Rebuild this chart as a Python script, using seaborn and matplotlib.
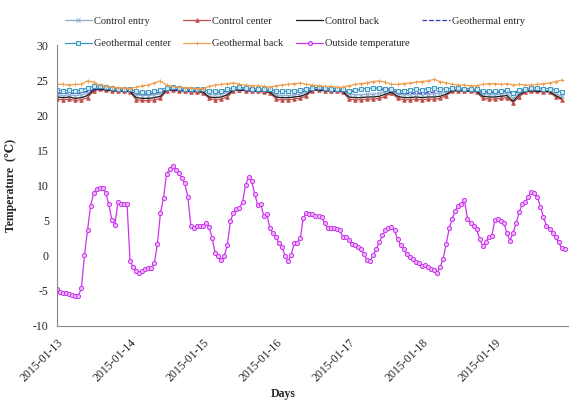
import pandas as pd
import seaborn as sns
import matplotlib.pyplot as plt
import matplotlib.dates as mdates

sns.set_style("white")
plt.rcParams["font.family"] = ["Liberation Serif", "DejaVu Serif"]
plt.rcParams["axes.unicode_minus"] = False

# hourly outside temperature, 2015-01-13 00:00 onwards
outside = [-4.7, -5.2, -5.3, -5.3, -5.4, -5.6, -5.7, -5.7, -4.6, 0.1, 3.6, 7.1, 8.9, 9.5, 9.6, 9.6, 9.0, 7.3, 5.1, 4.4, 7.6, 7.4, 7.4, 7.4,
           -0.8, -1.6, -2.1, -2.4, -2.1, -1.9, -1.7, -1.7, -1.0, 1.7, 6.1, 8.2, 11.7, 12.3, 12.8, 12.2, 11.8, 11.1, 10.3, 8.4, 4.3, 4.0, 4.2, 4.3,
           4.3, 4.6, 4.1, 2.5, 0.4, 0.0, -0.6, 0.0, 1.5, 4.9, 6.1, 6.6, 6.8, 7.6, 10.1, 11.2, 10.6, 8.8, 7.2, 7.4, 5.6, 5.9, 3.9, 3.2,
           2.7, 1.8, 1.2, 0.0, -0.8, 0.1, 1.8, 1.8, 2.5, 5.4, 6.1, 6.0, 5.9, 5.6, 5.6, 5.5, 4.6, 4.0, 3.9, 3.9, 3.8, 3.6, 2.7, 2.6,
           2.2, 1.7, 1.6, 1.2, 0.9, 0.2, -0.6, -0.7, 0.1, 0.9, 1.9, 2.9, 3.6, 3.9, 4.1, 3.6, 2.4, 1.5, 0.9, 0.2, -0.2, -0.5, -0.9, -1.1,
           -1.4, -1.3, -1.6, -1.9, -2.0, -2.5, -1.6, -0.4, 1.7, 3.9, 5.3, 6.4, 7.1, 7.3, 7.9, 5.3, 4.6, 4.3, 3.8, 2.4, 1.4, 2.0, 2.7, 2.8,
           5.1, 5.2, 5.0, 4.6, 3.2, 2.1, 3.3, 4.6, 6.2, 7.3, 7.7, 8.3, 9.1, 9.0, 8.3, 7.0, 5.5, 4.3, 3.8, 3.2, 2.6, 1.9, 1.1, 0.9]

# indoor readings, every 2 hours
control_entry = [22.9, 22.8, 22.9, 22.8, 22.9, 23.1, 23.8, 23.9, 23.8, 23.7, 23.6, 23.6, 23.5,
                 22.9, 22.8, 22.8, 22.9, 23.1, 23.7, 23.8, 23.7, 23.6, 23.6, 23.5, 23.5,
                 23.0, 22.9, 23.0, 23.2, 23.7, 23.8, 23.7, 23.6, 23.6, 23.5, 23.5,
                 22.9, 22.8, 22.8, 22.9, 23.0, 23.3, 23.7, 23.8, 23.7, 23.6, 23.6, 23.5,
                 23.0, 22.9, 22.9, 23.0, 23.0, 23.1, 23.3, 23.5,
                 23.0, 22.9, 22.9, 23.0, 22.9, 23.0, 23.0, 23.1, 23.3, 23.6, 23.7, 23.6, 23.6, 23.5,
                 23.0, 22.9, 22.9, 23.0, 23.1, 22.4, 23.2, 23.6, 23.6, 23.6, 23.5, 23.5, 23.1, 22.7]
control_center = [22.3, 22.2, 22.3, 22.1, 22.2, 22.5, 23.5, 23.7, 23.6, 23.5, 23.4, 23.4, 23.3,
                  22.2, 22.1, 22.1, 22.2, 22.4, 23.5, 23.6, 23.5, 23.4, 23.3, 23.3, 23.2,
                  22.4, 22.2, 22.3, 22.6, 23.5, 23.6, 23.5, 23.4, 23.4, 23.3, 23.2,
                  22.3, 22.2, 22.2, 22.3, 22.4, 22.8, 23.5, 23.6, 23.5, 23.4, 23.4, 23.3,
                  22.3, 22.2, 22.2, 22.3, 22.3, 22.4, 22.7, 23.2,
                  22.4, 22.2, 22.2, 22.3, 22.2, 22.3, 22.3, 22.4, 22.8, 23.4, 23.5, 23.4, 23.4, 23.3,
                  22.4, 22.3, 22.3, 22.4, 22.5, 21.8, 22.6, 23.3, 23.4, 23.4, 23.3, 23.3, 22.6, 22.2]
control_back = [22.6, 22.5, 22.6, 22.4, 22.5, 22.8, 23.6, 23.7, 23.6, 23.5, 23.5, 23.4, 23.4,
                22.5, 22.4, 22.4, 22.5, 22.7, 23.6, 23.6, 23.5, 23.5, 23.4, 23.4, 23.3,
                22.6, 22.5, 22.6, 22.9, 23.6, 23.6, 23.5, 23.5, 23.4, 23.4, 23.3,
                22.6, 22.5, 22.5, 22.6, 22.7, 23.0, 23.6, 23.6, 23.5, 23.5, 23.4, 23.4,
                22.6, 22.5, 22.5, 22.6, 22.6, 22.7, 23.0, 23.3,
                22.7, 22.5, 22.5, 22.6, 22.5, 22.6, 22.6, 22.7, 23.0, 23.5, 23.5, 23.5, 23.4, 23.4,
                22.7, 22.6, 22.6, 22.7, 22.8, 22.0, 22.9, 23.4, 23.5, 23.4, 23.4, 23.4, 22.8, 22.4]
geo_entry = [23.2, 23.1, 23.2, 23.1, 23.2, 23.4, 23.6, 23.8, 23.7, 23.6, 23.5, 23.5, 23.4,
             23.1, 23.0, 23.0, 23.1, 23.3, 23.6, 23.7, 23.6, 23.5, 23.5, 23.4, 23.4,
             23.3, 23.2, 23.3, 23.4, 23.6, 23.7, 23.6, 23.5, 23.5, 23.4, 23.4,
             23.2, 23.1, 23.1, 23.2, 23.3, 23.5, 23.6, 23.7, 23.6, 23.5, 23.5, 23.4,
             23.3, 23.4, 23.5, 23.6, 23.7, 23.7, 23.6, 23.6,
             23.2, 23.1, 23.1, 23.2, 23.1, 23.2, 23.3, 23.4, 23.5, 23.6, 23.6, 23.5, 23.5, 23.4,
             23.3, 23.2, 23.2, 23.3, 23.4, 23.0, 23.4, 23.5, 23.6, 23.6, 23.5, 23.5, 23.4, 23.1]
geo_center = [23.6, 23.5, 23.6, 23.5, 23.6, 23.9, 24.1, 24.2, 24.0, 23.9, 23.8, 23.8, 23.7,
              23.4, 23.3, 23.3, 23.4, 23.6, 23.9, 24.0, 23.9, 23.8, 23.8, 23.7, 23.7,
              23.5, 23.4, 23.5, 23.7, 23.9, 24.0, 23.9, 23.8, 23.8, 23.7, 23.7,
              23.5, 23.4, 23.4, 23.5, 23.6, 23.8, 23.9, 24.0, 23.9, 23.8, 23.8, 23.7,
              23.5, 23.6, 23.7, 23.8, 23.9, 23.9, 23.8, 23.8,
              23.5, 23.5, 23.6, 23.7, 23.6, 23.8, 23.9, 23.8, 23.7, 23.9, 23.9, 23.8, 23.8, 23.7,
              23.5, 23.4, 23.4, 23.5, 23.6, 23.2, 23.6, 23.8, 23.9, 23.9, 23.8, 23.8, 23.6, 23.3]
geo_back = [24.4, 24.4, 24.3, 24.4, 24.4, 24.9, 24.7, 24.3, 24.1, 24.0, 23.9, 23.9, 23.8,
            24.0, 24.2, 24.3, 24.6, 24.9, 24.3, 24.1, 24.0, 23.9, 23.9, 23.8, 23.8,
            24.1, 24.3, 24.4, 24.5, 24.6, 24.4, 24.3, 24.2, 24.2, 24.1, 24.0,
            24.2, 24.3, 24.4, 24.5, 24.6, 24.4, 24.3, 24.2, 24.1, 24.1, 24.0, 24.0,
            24.2, 24.4, 24.5, 24.6, 24.8, 24.9, 24.7, 24.4,
            24.4, 24.5, 24.6, 24.7, 24.8, 24.9, 25.1, 24.8, 24.6, 24.4, 24.3, 24.3, 24.2, 24.2,
            24.4, 24.5, 24.5, 24.4, 24.5, 24.3, 24.4, 24.3, 24.3, 24.4, 24.5, 24.6, 24.8, 25.0]

day_labels = ["2015-01-13", "2015-01-14", "2015-01-15", "2015-01-16",
              "2015-01-17", "2015-01-18", "2015-01-19"]

hourly = pd.date_range("2015-01-13", periods=len(outside), freq="h")
two_hourly = pd.date_range("2015-01-13", periods=len(geo_back), freq="2h")

series = [
    ("Control entry", two_hourly, control_entry, "#8eaed0", "x", "-", 2.5, "#8eaed0"),
    ("Control center", two_hourly, control_center, "#c0504d", "^", "-", 2.5, "#c0504d"),
    ("Control back", two_hourly, control_back, "#1a1a1a", "", "-", 0, "#1a1a1a"),
    ("Geothermal entry", two_hourly, geo_entry, "#3535c8", "", "--", 0, "#3535c8"),
    ("Geothermal center", two_hourly, geo_center, "#3b98c2", "s", "-", 2.5, "#d0e8f2"),
    ("Geothermal back", two_hourly, geo_back, "#f0a050", "+", "-", 3.5, "#f0a050"),
    ("Outside temperature", hourly, outside, "#cc33ee", "o", "-", 3, "#ebbdf8"),
]

fig, ax = plt.subplots(figsize=(5.77, 4), dpi=100)
fig.subplots_adjust(left=0.099, right=0.984, bottom=0.185, top=0.8875)

for label, t, vals, col, mk, ls, ms, mfc in series:
    sns.lineplot(x=t, y=vals, ax=ax, color=col, marker=mk, markersize=ms,
                 markerfacecolor=mfc, markeredgecolor=col, markeredgewidth=0.7,
                 linestyle=ls, linewidth=0.9, label=label)

day_ticks = pd.date_range("2015-01-13", "2015-01-20", freq="D")
ax.set_xlim(day_ticks[0], day_ticks[-1])
ax.set_xticks(day_ticks)
ax.set_xticklabels(day_labels + [""], rotation=45, ha="right", rotation_mode="anchor")
ax.xaxis.set_minor_locator(mdates.HourLocator(byhour=12))
ax.set_ylim(-10, 30)
ax.set_yticks(range(-10, 31, 5))

ax.tick_params(axis="x", which="major", direction="inout", length=7, width=0.8,
               color="#888888", labelsize=8.5, pad=4)
ax.tick_params(axis="x", which="minor", direction="in", length=3, width=0.8, color="#888888")
ax.tick_params(axis="y", direction="out", length=3, width=0.8, color="#888888", labelsize=8.5, pad=3)

for side in ["top", "right"]:
    ax.spines[side].set_visible(False)
for side in ["left", "bottom"]:
    ax.spines[side].set_color("#888888")
    ax.spines[side].set_linewidth(0.8)

ax.set_xlabel("Days", fontsize=8.5, fontweight="bold")
ax.set_ylabel("Temperature  (\u2103)", fontsize=8.5, fontweight="bold")
ax.xaxis.set_label_coords(0.442, -0.22)
ax.yaxis.set_label_coords(-0.078, 0.5)

handles, labels = ax.get_legend_handles_labels()
ax.get_legend().remove()
order = [0, 4, 1, 5, 2, 6, 3]
fig.legend([handles[i] for i in order], [labels[i] for i in order],
           loc="upper left", bbox_to_anchor=(0.112, 0.958), ncol=4, frameon=False,
           fontsize=7.5, handlelength=2.6, handletextpad=0.2, columnspacing=1.2,
           labelspacing=1.25, borderpad=0, borderaxespad=0)

plt.savefig("out.png", dpi=100)
